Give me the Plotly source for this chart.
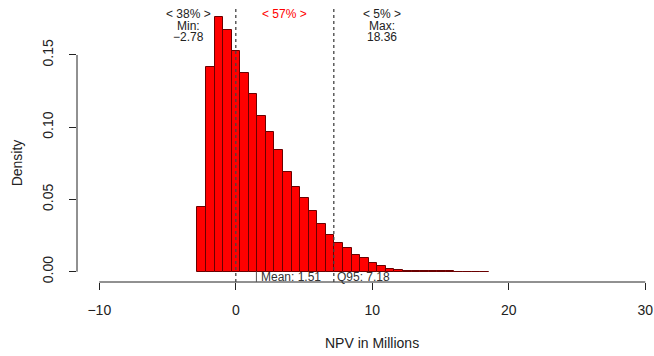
import plotly.graph_objects as go

# Histogram breaks (bin edges)
breaks = [-2.82, -2.19, -1.56, -0.94, -0.31, 0.32, 0.95, 1.58, 2.20, 2.83, 3.46,
          4.09, 4.72, 5.34, 5.97, 6.60, 7.23, 7.86, 8.48, 9.11, 9.74, 10.37,
          11.00, 11.62, 12.25, 12.88, 13.51, 14.14, 14.76, 15.39, 16.02, 16.65,
          17.28, 17.90, 18.53]
# Density per bin
density = [0.0445, 0.1415, 0.1766, 0.1676, 0.1530, 0.1373, 0.1231, 0.1080,
           0.0967, 0.0845, 0.0693, 0.0589, 0.0510, 0.0418, 0.0330, 0.0256,
           0.0201, 0.0161, 0.0113, 0.0092, 0.0060, 0.0039, 0.0019, 0.0012,
           0.0006, 0.0004, 0.0004, 0.0003, 0.0002, 0.0002, 0.0001, 0.0001,
           0.0001, 0.0001]

stat_min = -2.78
stat_max = 18.36
stat_mean = 1.51
stat_q95 = 7.18
share_labels = ["< 38% >", "< 57% >", "< 5% >"]

x_ticks = [-10, 0, 10, 20, 30]
x_ticktext = ["\u221210", "0", "10", "20", "30"]
y_ticks = [0.0, 0.05, 0.10, 0.15]
y_ticktext = ["0.00", "0.05", "0.10", "0.15"]

centers = [(a + b) / 2 for a, b in zip(breaks[:-1], breaks[1:])]
widths = [b - a for a, b in zip(breaks[:-1], breaks[1:])]

FONT = "Liberation Sans, Arial, Helvetica, sans-serif"
TXT = "#222222"

fig = go.Figure()
fig.add_trace(go.Bar(
    x=centers, y=density, width=widths,
    marker=dict(color="#FF0000", line=dict(color="#6a0000", width=1)),
    hoverinfo="skip",
))

XR = [-11.634, 30.344]
YR = [-0.00713, 0.1846]

shapes = []
shapes.append(dict(type="line", xref="x", yref="paper", x0=-10, x1=30, y0=0, y1=0,
                   line=dict(color="#222222", width=1)))
shapes.append(dict(type="line", xref="paper", yref="y", x0=0, x1=0, y0=0, y1=0.15,
                   line=dict(color="#222222", width=1)))
for xv in [0, stat_q95]:
    shapes.append(dict(type="line", xref="x", yref="paper", x0=xv, x1=xv, y0=0, y1=0.989,
                       line=dict(color="#444444", width=1.3, dash="3px,3px")))
shapes.append(dict(type="line", xref="x", yref="paper", x0=stat_mean, x1=stat_mean,
                   y0=0, y1=0.0375, line=dict(color="#555555", width=1)))

ann = []
def txt(x, y_px, s, color=TXT, size=12, anchor="center"):
    ann.append(dict(x=x, xref="x", y=1, yref="paper", yanchor="middle",
                    yshift=-(y_px - 5), text=s, showarrow=False, xanchor=anchor,
                    font=dict(family=FONT, size=size, color=color)))

lx = -3.5
rx = stat_q95 + 3.53
mx = (0 + stat_q95) / 2
txt(lx, 14, share_labels[0])
txt(lx, 26, "Min:")
txt(lx, 37, "\u2212" + f"{abs(stat_min):.2f}")
txt(mx, 14, share_labels[1], color="#FF0000")
txt(rx, 14, share_labels[2])
txt(rx, 26, "Max:")
txt(rx, 37, f"{stat_max:.2f}")

for xv, s, sh in [(stat_mean, f"Mean: {stat_mean:.2f}", 3), (stat_q95, f"Q95: {stat_q95:.2f}", 1)]:
    ann.append(dict(x=xv, xref="x", y=0, yref="paper", yanchor="middle", yshift=5,
                    xanchor="left", xshift=sh, text=s, showarrow=False,
                    font=dict(family=FONT, size=12, color="#333333")))

ann.append(dict(x=10, xref="x", y=0, yref="paper", yanchor="middle", yshift=-61,
                text="NPV in Millions", showarrow=False,
                font=dict(family=FONT, size=14, color=TXT)))
ann.append(dict(x=-0.1047, xref="paper", y=0.075, yref="y", xanchor="center",
                yanchor="middle", text="Density", textangle=-90, showarrow=False,
                font=dict(family=FONT, size=14, color=TXT)))

fig.update_layout(
    width=654, height=356,
    margin=dict(l=77, r=4, t=5, b=74, autoexpand=False),
    plot_bgcolor="white", paper_bgcolor="white",
    showlegend=False, bargap=0,
    shapes=shapes, annotations=ann,
    font=dict(family=FONT, size=14, color=TXT),
)
fig.update_xaxes(range=XR, showgrid=False, zeroline=False, showline=False, automargin=False,
                 tickmode="array", tickvals=x_ticks, ticktext=x_ticktext,
                 ticks="outside", ticklen=7, tickcolor="#222222", tickwidth=1,
                 ticklabelstandoff=8, tickfont=dict(family=FONT, size=14, color=TXT))
fig.update_yaxes(range=YR, showgrid=False, zeroline=False, showline=False, automargin=False,
                 tickmode="array", tickvals=y_ticks, ticktext=y_ticktext,
                 ticks="outside", ticklen=7, tickcolor="#222222", tickwidth=1,
                 tickangle=-90, ticklabelstandoff=10,
                 tickfont=dict(family=FONT, size=14, color=TXT))

fig.write_html("out.html", config={"displayModeBar": False},
               post_script="document.body.style.margin='0';document.body.style.overflow='hidden';")
